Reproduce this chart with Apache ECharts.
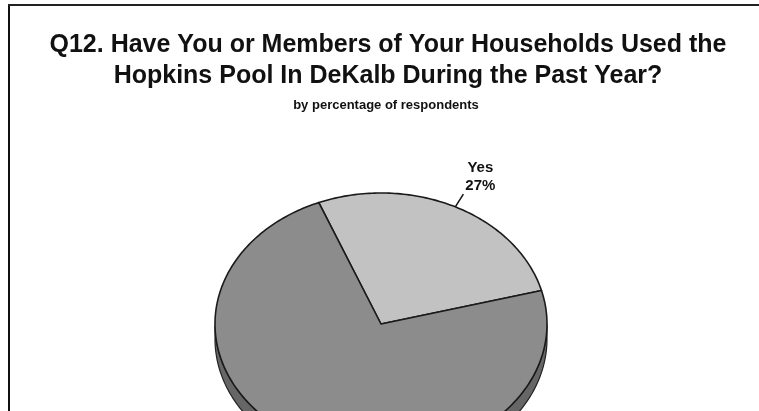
<!DOCTYPE html>
<html>
<head>
<meta charset="utf-8">
<script src="https://cdn.jsdelivr.net/npm/echarts@6/dist/echarts.min.js"></script>
<style>
html,body{margin:0;padding:0;background:#fff;}
#c{width:759px;height:411px;}
</style>
</head>
<body>
<div id="c"></div>
<script>
const titleLines = ['Q12. Have You or Members of Your Households Used the', 'Hopkins Pool In DeKalb During the Past Year?'];
const subtitle = 'by percentage of respondents';
const categories = ['Yes', 'No'];
const values = [27, 73];

const sliceColors = ['#c2c2c2', '#8c8c8c'];
const sideColors = ['#9a9a9a', '#666666'];
const CX = 381, CY = 324, RX = 166, RY = 131, DEPTH = 15, START = 112;

const chart = echarts.init(document.getElementById('c'), null, {renderer: 'canvas'});
const total = values.reduce((a, b) => a + b, 0);

function pt(a, dy) {
  const r = a * Math.PI / 180;
  return [CX + RX * Math.cos(r), CY - RY * Math.sin(r) + (dy || 0)];
}

function renderItem(params, api) {
  const i = params.dataIndex;
  let cum = 0;
  for (let k = 0; k < i; k++) cum += values[k];
  const v = api.value(1);
  const a0 = START - 360 * cum / total;
  const a1 = a0 - 360 * v / total;
  const children = [];
  const sideTop = [];
  for (let a = a0; a >= a1 - 1e-6; a -= 1) {
    const s = Math.sin(a * Math.PI / 180);
    if (s <= 0.001) sideTop.push(a);
  }
  if (sideTop.length > 1) {
    const top = sideTop.map(a => pt(a, 0));
    const bot = sideTop.slice().reverse().map(a => pt(a, DEPTH));
    children.push({type: 'polygon', shape: {points: top.concat(bot)},
      style: {fill: sideColors[i], stroke: '#222', lineWidth: 1.2}, z2: 1});
  }
  const pts = [[CX, CY]];
  const steps = Math.max(2, Math.ceil(Math.abs(a0 - a1)));
  for (let s = 0; s <= steps; s++) pts.push(pt(a0 + (a1 - a0) * s / steps, 0));
  children.push({type: 'polygon', shape: {points: pts},
    style: {fill: sliceColors[i], stroke: '#1a1a1a', lineWidth: 1.6, lineJoin: 'round'}, z2: 2});
  const am = (a0 + a1) / 2;
  const p0 = pt(am, 0);
  const r = am * Math.PI / 180;
  let dx = RX * Math.cos(r), dy = -RY * Math.sin(r);
  const len = Math.sqrt(dx * dx + dy * dy);
  dx /= len; dy /= len;
  const p1 = [p0[0] + dx * 15, p0[1] + dy * 15];
  children.push({type: 'line', shape: {x1: p0[0], y1: p0[1], x2: p1[0], y2: p1[1]},
    style: {stroke: '#111', lineWidth: 1.5}, z2: 3});
  children.push({type: 'text', x: p1[0] + (dx >= 0 ? 17 : -17), y: p1[1] + 1,
    style: {text: api.value(0) + '\n' + api.value(1) + '%', align: 'center', verticalAlign: 'bottom',
      font: 'bold 15px "Liberation Sans", Arial, sans-serif', fill: '#111', lineHeight: 18}, z2: 3});
  return {type: 'group', children: children};
}

chart.setOption({
  animation: false,
  backgroundColor: '#ffffff',
  title: [{
    text: titleLines.join('\n'),
    left: 383, top: 25, textAlign: 'center',
    textStyle: {fontFamily: '"Liberation Sans", Arial, sans-serif', fontWeight: 'bold', fontSize: 25, color: '#111', lineHeight: 31}
  }, {
    text: subtitle,
    left: 381, top: 94, textAlign: 'center',
    textStyle: {fontFamily: '"Liberation Sans", Arial, sans-serif', fontWeight: 'bold', fontSize: 13, color: '#111'}
  }],
  graphic: [
    {type: 'rect', shape: {x: 8, y: 4, width: 2, height: 407}, style: {fill: '#111'}},
    {type: 'rect', shape: {x: 8, y: 4, width: 751, height: 2}, style: {fill: '#222'}}
  ],
  series: [{
    type: 'custom',
    coordinateSystem: 'none',
    renderItem: renderItem,
    data: categories.map((c, i) => [c, values[i]])
  }]
});
</script>
</body>
</html>
